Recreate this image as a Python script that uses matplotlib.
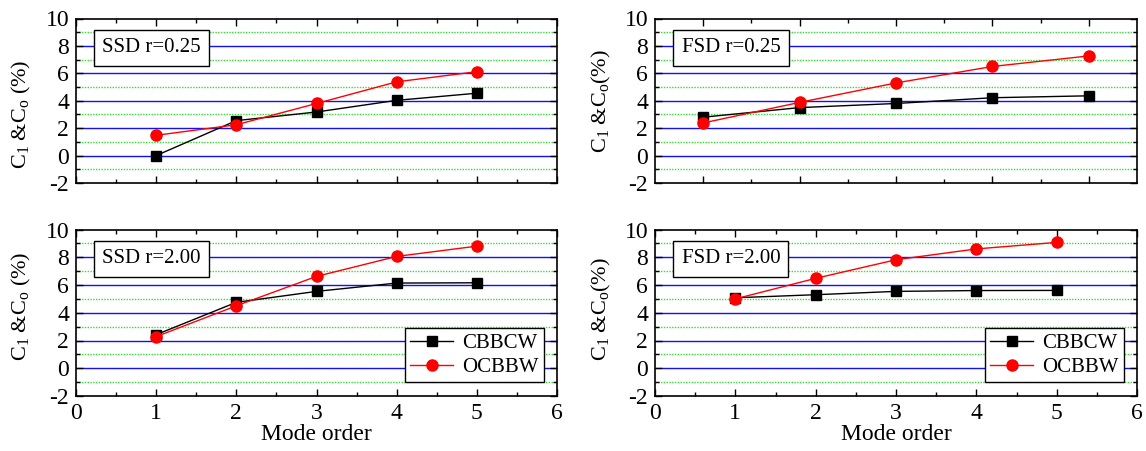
import numpy as np
import matplotlib
matplotlib.use('Agg')
import matplotlib.pyplot as plt
from matplotlib.ticker import MultipleLocator, FixedLocator, NullFormatter

plt.rcParams['font.family'] = ['Liberation Serif', 'DejaVu Serif']
plt.rcParams['mathtext.fontset'] = 'custom'
plt.rcParams['mathtext.rm'] = 'Liberation Serif'
plt.rcParams['mathtext.it'] = 'Liberation Serif:italic'
plt.rcParams['axes.unicode_minus'] = False

# data
mode = [1, 2, 3, 4, 5]
mode_fsd025 = [0.6, 1.8, 3.0, 4.2, 5.4]

ssd025_cbbcw = [0.0, 2.55, 3.18, 4.03, 4.55]
ssd025_ocbbw = [1.48, 2.25, 3.8, 5.38, 6.12]
fsd025_cbbcw = [2.8, 3.5, 3.8, 4.22, 4.36]
fsd025_ocbbw = [2.38, 3.88, 5.3, 6.5, 7.27]
ssd200_cbbcw = [2.42, 4.75, 5.54, 6.14, 6.16]
ssd200_ocbbw = [2.28, 4.5, 6.62, 8.06, 8.8]
fsd200_cbbcw = [5.08, 5.3, 5.54, 5.6, 5.61]
fsd200_ocbbw = [5.0, 6.48, 7.82, 8.6, 9.07]

panels = [
    ('SSD r=0.25', mode, ssd025_cbbcw, ssd025_ocbbw),
    ('FSD r=0.25', mode_fsd025, fsd025_cbbcw, fsd025_ocbbw),
    ('SSD r=2.00', mode, ssd200_cbbcw, ssd200_ocbbw),
    ('FSD r=2.00', mode, fsd200_cbbcw, fsd200_ocbbw),
]
ylabels = [r'C$_\mathrm{1}$ &C$_\mathrm{o}$ (%)', r'C$_\mathrm{1}$ &C$_\mathrm{o}$(%)']
label_y = [0.42, 0.5, 0.54, 0.52]

fig = plt.figure(figsize=(11.46, 4.51), dpi=100)
W, H = 1146, 451
lefts = [76, 655]; widths = [481, 482]
tops = [(18.5, 183), (229.5, 396)]

for i, (name, xs, cb, oc) in enumerate(panels):
    row, col = divmod(i, 2)
    t, b = tops[row]
    ax = fig.add_axes([lefts[col] / W, 1 - b / H, widths[col] / W, (b - t) / H])
    ax.set_xlim(0, 6); ax.set_ylim(-2, 10)
    for y in [0, 2, 4, 6, 8]:
        ax.axhline(y, color='#1010ff', lw=1.0, zorder=1)
    for y in [-1, 1, 3, 5, 7, 9]:
        ax.axhline(y, color='#33dd33', lw=1.0, ls=(0, (1, 1)), zorder=1)
    ax.plot(xs, cb, '-s', color='black', lw=1.0, ms=7, label='CBBCW', zorder=3)
    ax.plot(xs, oc, '-o', color='red', lw=1.0, ms=8, label='OCBBW', zorder=3)

    ax.yaxis.set_major_locator(MultipleLocator(2))
    ax.yaxis.set_minor_locator(MultipleLocator(1))
    if i == 1:
        ax.xaxis.set_major_locator(FixedLocator(mode_fsd025))
        ax.xaxis.set_minor_locator(FixedLocator([1.2, 2.4, 3.6, 4.8]))
    else:
        ax.xaxis.set_major_locator(MultipleLocator(1))
        ax.xaxis.set_minor_locator(MultipleLocator(0.5))
    ax.tick_params(which='both', direction='in', top=True, right=True, labelsize=17, width=1.0)
    ax.tick_params(which='major', length=5, pad=5)
    ax.tick_params(which='minor', length=3)
    for s in ax.spines.values():
        s.set_linewidth(1.2)
    if row == 0:
        ax.xaxis.set_major_formatter(NullFormatter())
    else:
        ax.set_xlabel('Mode order', fontsize=17, labelpad=0)
        ax.legend(loc='lower right', bbox_to_anchor=(0.972, 0.083), fontsize=15,
                  frameon=True, fancybox=False, edgecolor='black', framealpha=1,
                  handlelength=2.1, borderpad=0.25, labelspacing=0.2, handletextpad=0.4,
                  borderaxespad=0)
        ax.get_legend().get_frame().set_linewidth(1.0)
    ax.set_ylabel(ylabels[col], fontsize=16)
    ax.yaxis.set_label_coords(-0.089 if col == 0 else -0.087, label_y[i])
    ax.text(0.055, 0.88, name, transform=ax.transAxes, fontsize=15, va='top', ha='left',
            bbox=dict(boxstyle='square,pad=0.4', fc='white', ec='black', lw=1.0), zorder=4)

fig.savefig('out.png', dpi=100)
